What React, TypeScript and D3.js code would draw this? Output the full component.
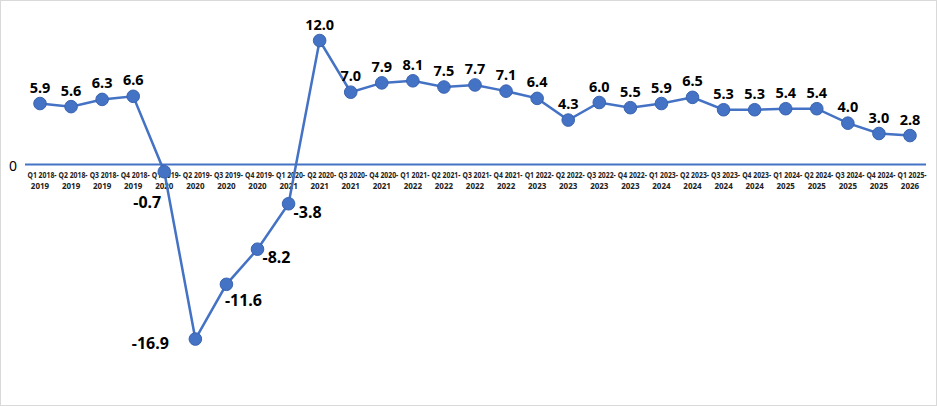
import React, { useEffect, useRef } from 'react';
import * as d3 from 'd3';

// quarters of the fiscal year
const categories = [
  'Q1 2018-2019', 'Q2 2018-2019', 'Q3 2018-2019', 'Q4 2018-2019',
  'Q1 2019-2020', 'Q2 2019-2020', 'Q3 2019-2020', 'Q4 2019-2020',
  'Q1 2020-2021', 'Q2 2020-2021', 'Q3 2020-2021', 'Q4 2020-2021',
  'Q1 2021-2022', 'Q2 2021-2022', 'Q3 2021-2022', 'Q4 2021-2022',
  'Q1 2022-2023', 'Q2 2022-2023', 'Q3 2022-2023', 'Q4 2022-2023',
  'Q1 2023-2024', 'Q2 2023-2024', 'Q3 2023-2024', 'Q4 2023-2024',
  'Q1 2024-2025', 'Q2 2024-2025', 'Q3 2024-2025', 'Q4 2024-2025',
  'Q1 2025-2026',
];

const values = [
  5.9, 5.6, 6.3, 6.6, -0.7, -16.9, -11.6, -8.2, -3.8, 12.0, 7.0, 7.9, 8.1, 7.5, 7.7,
  7.1, 6.4, 4.3, 6.0, 5.5, 5.9, 6.5, 5.3, 5.3, 5.4, 5.4, 4.0, 3.0, 2.8,
];

// where each data label sits relative to its point
const labelPositions = [
  'top', 'top', 'top', 'top', 'belowLeft', 'left', 'belowRight', 'right', 'right', 'top', 'top',
  'top', 'top', 'top', 'top', 'top', 'top', 'top', 'top', 'top', 'top', 'top', 'top', 'top',
  'top', 'top', 'top', 'top', 'top',
];

const yTicks = [0];

const App: React.FC = () => {
  const svgRef = useRef<SVGSVGElement>(null);

  useEffect(() => {
    if (!svgRef.current) return;
    d3.select(svgRef.current).selectAll('*').remove();

    const width = 937;
    const height = 406;
    const lineColor = '#4472C4';
    const markerStroke = '#3A64B0';
    const labelFont = '"Noto Sans", "Open Sans", sans-serif';

    const svg = d3.select(svgRef.current)
      .attr('width', width)
      .attr('height', height);

    svg.append('rect')
      .attr('x', 0.5).attr('y', 0.5)
      .attr('width', width - 1).attr('height', height - 1)
      .attr('fill', '#fff')
      .attr('stroke', '#d9d9d9');

    const x = d3.scalePoint<string>()
      .domain(categories)
      .range([40, 910]);

    const y = d3.scaleLinear()
      .domain([-17, 13])
      .range([340.1, 30.2]);

    // zero line + label
    yTicks.forEach(t => {
      svg.append('line')
        .attr('x1', 25).attr('x2', 926)
        .attr('y1', y(t)).attr('y2', y(t))
        .attr('stroke', lineColor)
        .attr('stroke-width', 2);
      svg.append('text')
        .attr('x', 13).attr('y', y(t) + 7)
        .attr('text-anchor', 'middle')
        .attr('font-family', labelFont)
        .attr('font-size', 14)
        .attr('fill', '#000')
        .text(String(t));
    });

    // category labels, wrapped after the hyphen (narrowed to fit the step)
    categories.forEach(c => {
      const cut = c.indexOf('-') + 1;
      const lines = [c.slice(0, cut), c.slice(cut)];
      lines.forEach((l, i) => {
        const t = svg.append('text')
          .attr('x', (x(c) ?? 0) + (i === 0 ? 2 : 0))
          .attr('y', y(0) + 14 + i * 11)
          .attr('text-anchor', 'middle')
          .attr('font-family', labelFont)
          .attr('font-size', 8)
          .attr('font-weight', 'bold')
          .attr('fill', '#222')
          .text(l);
        if (i === 0) {
          t.attr('textLength', 29).attr('lengthAdjust', 'spacingAndGlyphs');
        }
      });
    });

    const line = d3.line<number>()
      .x((_, i) => x(categories[i]) ?? 0)
      .y(d => y(d));

    svg.append('path')
      .datum(values)
      .attr('d', line)
      .attr('fill', 'none')
      .attr('stroke', lineColor)
      .attr('stroke-width', 2.5);

    svg.selectAll('circle.pt')
      .data(values)
      .join('circle')
      .attr('class', 'pt')
      .attr('cx', (_, i) => x(categories[i]) ?? 0)
      .attr('cy', d => y(d))
      .attr('r', 6.3)
      .attr('fill', lineColor)
      .attr('stroke', markerStroke)
      .attr('stroke-width', 1);

    const offsets: Record<string, [number, number]> = {
      top: [0, -11],
      belowLeft: [-17, 36],
      left: [-45, 10],
      belowRight: [17, 22],
      right: [19, 14],
    };

    values.forEach((v, i) => {
      const pos = labelPositions[i];
      const [dx, dy] = offsets[pos];
      svg.append('text')
        .attr('x', (x(categories[i]) ?? 0) + dx)
        .attr('y', y(v) + dy)
        .attr('text-anchor', 'middle')
        .attr('font-family', labelFont)
        .attr('font-size', v < 0 ? 16 : 14.5)
        .attr('font-weight', 'bold')
        .attr('fill', '#000')
        .text(v.toFixed(1));
    });
  }, []);

  return (
    <div style={{ position: 'absolute', left: 0, top: 0 }}>
      <svg ref={svgRef} style={{ display: 'block' }}></svg>
    </div>
  );
};

export default App;
